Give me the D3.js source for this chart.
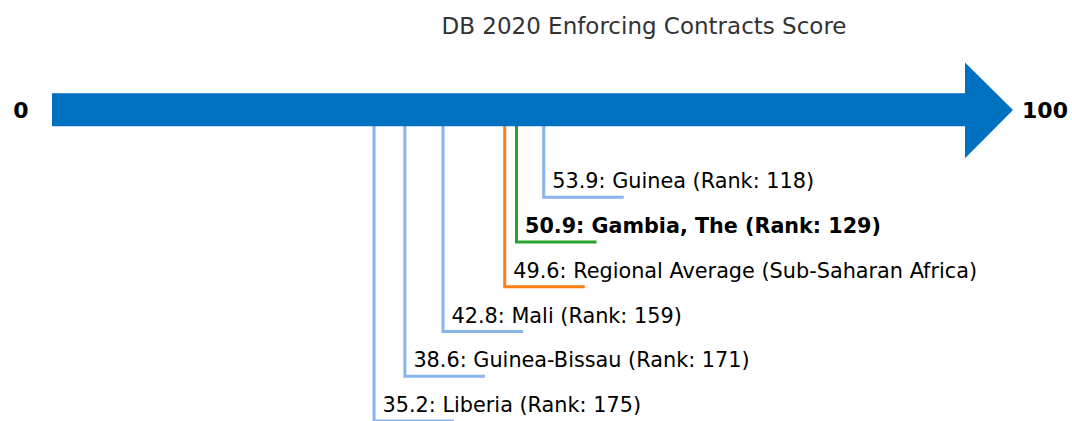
<!DOCTYPE html>
<html><head><meta charset="utf-8">
<script src="https://cdn.jsdelivr.net/npm/d3@7"></script>
<style>
html,body{margin:0;padding:0;background:#fff;}
svg{display:block;}
text{font-family:"DejaVu Sans",sans-serif;}
</style></head>
<body>
<script>
const title = "DB 2020 Enforcing Contracts Score";
const names = ["Guinea (Rank: 118)", "Gambia, The (Rank: 129)", "Regional Average (Sub-Saharan Africa)", "Mali (Rank: 159)", "Guinea-Bissau (Rank: 171)", "Liberia (Rank: 175)"];
const scores = [53.9, 50.9, 49.6, 42.8, 38.6, 35.2];
const kinds = ["peer", "focus", "region", "peer", "peer", "peer"];
const domainLabels = ["0", "100"];

const W = 1072, H = 421;
const colors = {peer: "#8ab4ee", focus: "#2ca02c", region: "#ff7f0e"};
const svg = d3.select("body").append("svg").attr("width", W).attr("height", H);

const x = d3.scaleLinear().domain([0, 100]).range([54.6, 962.1]);
const yAxis = 110;
const rows = d3.scaleLinear().domain([0, 5]).range([197.3, 421]);

// title
svg.append("text").attr("x", 644).attr("y", 34).attr("text-anchor", "middle")
  .attr("font-size", 23).attr("fill", "#333").text(title);

// leader lines
const g = svg.append("g");
scores.forEach((s, i) => {
  const x0 = x(s), y0 = rows(i);
  const bold = kinds[i] === "focus";
  g.append("path")
    .attr("d", `M${x0},${yAxis} V${y0} H${x0 + 80}`)
    .attr("fill", "none").attr("stroke", colors[kinds[i]]).attr("stroke-width", 3);
  g.append("text").attr("x", x0 + 8.5).attr("y", y0 - 9)
    .attr("font-size", bold ? 20.7 : 20.8)
    .attr("font-weight", bold ? "bold" : "normal")
    .attr("fill", "#000")
    .text(`${s.toFixed(1)}: ${names[i]}`);
});

// arrow
const shaftTop = 93.3, shaftBot = 126.3, headTop = 62.5, headBot = 158.3;
const headStart = 965, tip = 1013;
svg.append("path")
  .attr("d", `M52,${shaftTop} H${headStart} V${headTop} L${tip},${yAxis} L${headStart},${headBot} V${shaftBot} H52 Z`)
  .attr("fill", "#0070c0");

svg.append("text").attr("x", 21).attr("y", yAxis).attr("dy", "0.36em").attr("text-anchor", "middle")
  .attr("font-size", 22).attr("font-weight", "bold").text(domainLabels[0]);
svg.append("text").attr("x", 1045).attr("y", yAxis).attr("dy", "0.36em").attr("text-anchor", "middle")
  .attr("font-size", 22).attr("font-weight", "bold").text(domainLabels[1]);
</script>
</body></html>
